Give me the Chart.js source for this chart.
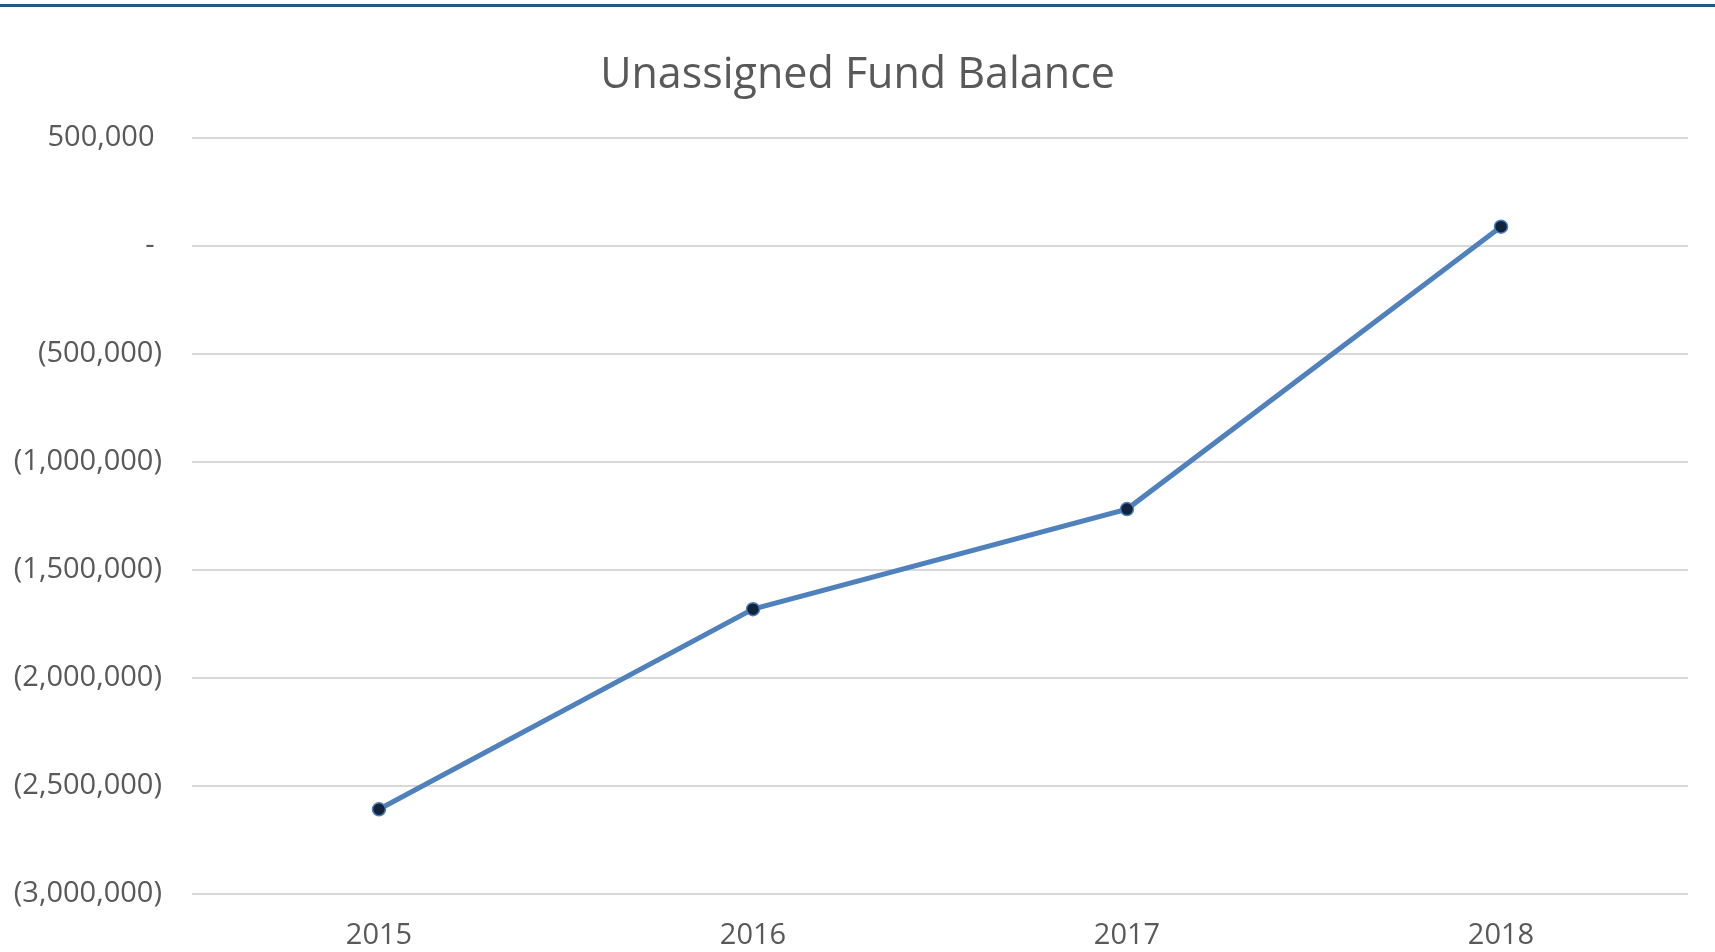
<!DOCTYPE html>
<html>
<head>
<meta charset="utf-8">
<script src="https://cdn.jsdelivr.net/npm/chart.js@4"></script>
<style>
    html, body { margin: 0; padding: 0; background: #ffffff; }
    .topbar { position: absolute; left: 0; top: 4px; width: 1715px; height: 3px; background: #1F5B84; }
    .wrap { position: absolute; left: 0; top: 0; width: 1715px; height: 952px; }
</style>
</head>
<body>
<div class="topbar"></div>
<div class="wrap"><canvas id="fundChart"></canvas></div>
<script>
    const years = ['2015', '2016', '2017', '2018'];
    const balances = [-2608000, -1682000, -1219000, 88000];
    const yTicks = [500000, 0, -500000, -1000000, -1500000, -2000000, -2500000, -3000000];

    // accounting style labels, like Excel: (1,000,000) and "-" for zero
    function accounting(v) {
        if (v === 0) return '- ';
        const s = Math.abs(v).toLocaleString('en-US');
        return v < 0 ? '(' + s + ')' : s + ' ';
    }

    const ctx = document.getElementById('fundChart').getContext('2d');
    new Chart(ctx, {
        type: 'line',
        data: {
            labels: years,
            datasets: [{
                label: 'Unassigned Fund Balance',
                data: balances,
                borderColor: '#4F81BD',
                borderWidth: 5,
                pointRadius: 6.5,
                pointBorderWidth: 1.5,
                pointBackgroundColor: '#10243E',
                pointBorderColor: '#4F81BD',
                tension: 0
            }]
        },
        options: {
            responsive: true,
            maintainAspectRatio: false,
            animation: false,
            layout: { padding: 0 },
            plugins: {
                legend: { display: false },
                tooltip: { enabled: false },
                title: {
                    display: true,
                    text: 'Unassigned Fund Balance',
                    color: '#595959',
                    font: { family: "'Open Sans', sans-serif", size: 43, weight: 'normal' },
                    padding: { top: 50, bottom: 36 }
                }
            },
            scales: {
                y: {
                    min: -3000000,
                    max: 500000,
                    afterBuildTicks: s => { s.ticks = yTicks.map(v => ({ value: v })); },
                    afterFit: s => { s.width = 192; },
                    border: { display: false },
                    grid: { color: '#D9D9D9', lineWidth: 2, drawTicks: false },
                    ticks: {
                        color: '#595959',
                        padding: 30,
                        font: { family: "'Open Sans', sans-serif", size: 29 },
                        callback: v => accounting(v)
                    }
                },
                // empty right-hand spacer so the title stays centred on the page
                yRight: {
                    position: 'right',
                    border: { display: false },
                    grid: { display: false, drawTicks: false },
                    ticks: { display: false },
                    afterFit: s => { s.width = 27; }
                },
                x: {
                    offset: true,
                    border: { display: false },
                    grid: { display: false, drawTicks: false },
                    afterFit: s => { s.height = 58; },
                    ticks: {
                        color: '#595959',
                        padding: 24,
                        font: { family: "'Open Sans', sans-serif", size: 29 }
                    }
                }
            }
        }
    });
</script>
</body>
</html>
